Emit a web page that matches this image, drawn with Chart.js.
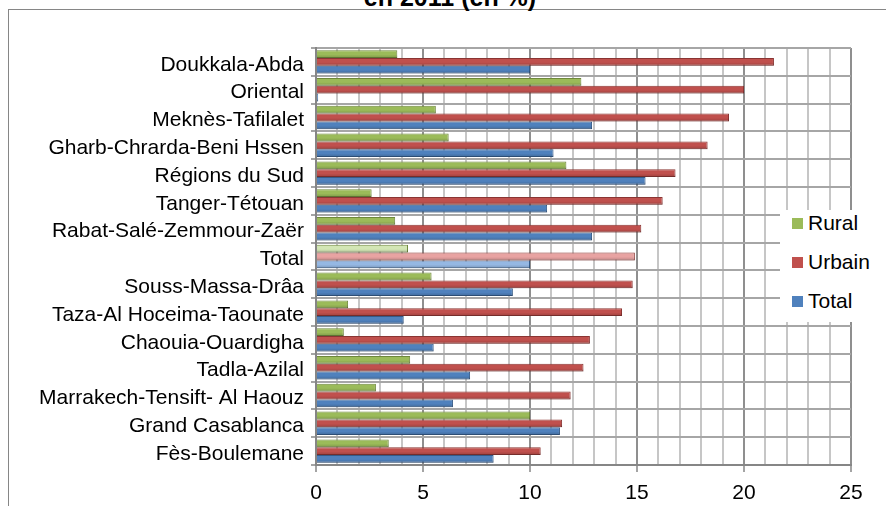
<!DOCTYPE html>
<html>
<head>
<meta charset="utf-8">
<script src="https://cdn.jsdelivr.net/npm/chart.js@4.4.0/dist/chart.umd.min.js"></script>
<style>
  html, body { margin: 0; padding: 0; background: #fff; overflow: hidden; }
  body { width: 886px; height: 506px; position: relative; font-family: 'Liberation Sans', Arial, sans-serif; }
  #frame { position: absolute; left: 8px; top: 9px; width: 1000px; height: 1000px; border: 1.5px solid #868686; }
  #title { position: absolute; left: 0; top: -18px; width: 900px; text-align: center; font-size: 25px; line-height: 30px; font-weight: bold; color: #000; white-space: nowrap; }
  #chart { position: absolute; left: 0; top: 0; }
  #legend { position: absolute; left: 780px; top: 210px; width: 120px; height: 112px; background: #fff; }
  .item { position: absolute; left: 12px; height: 24px; line-height: 24px; font-size: 21px; color: #000; white-space: nowrap; }
  .item span.box { display: inline-block; width: 11px; height: 11px; margin-right: 5px; vertical-align: 1px; }
</style>
</head>
<body>
<div id="frame"></div>
<div id="title">en 2011 (en %)</div>
<canvas id="chart" width="886" height="506"></canvas>
<div id="legend"></div>
<script>
// data (%)
const regions = [
    'Doukkala-Abda', 'Oriental', 'Meknès-Tafilalet', 'Gharb-Chrarda-Beni Hssen',
    'Régions du Sud', 'Tanger-Tétouan', 'Rabat-Salé-Zemmour-Zaër', 'Total',
    'Souss-Massa-Drâa', 'Taza-Al Hoceima-Taounate', 'Chaouia-Ouardigha',
    'Tadla-Azilal', 'Marrakech-Tensift- Al Haouz', 'Grand Casablanca', 'Fès-Boulemane'
];
const rural  = [3.8, 12.4, 5.6, 6.2, 11.7, 2.6, 3.7, 4.3, 5.4, 1.5, 1.3, 4.4, 2.8, 10.0, 3.4];
const urbain = [21.4, 20.0, 19.3, 18.3, 16.8, 16.2, 15.2, 14.9, 14.8, 14.3, 12.8, 12.5, 11.9, 11.5, 10.5];
const total  = [10.0, 0.1, 12.9, 11.1, 15.4, 10.8, 12.9, 10.0, 9.2, 4.1, 5.5, 7.2, 6.4, 11.4, 8.3];
const xTicks = [0, 5, 10, 15, 20, 25];

const FONT = "'Liberation Sans', Arial, sans-serif";

// series colours, the "Total" row is drawn lighter
const series = [
    { label: 'Rural',  data: rural,  color: '#9bbb59', light: '#d3e6b5', border: '#6f883c' },
    { label: 'Urbain', data: urbain, color: '#c0504d', light: '#e8a3a2', border: '#8a3533' },
    { label: 'Total',  data: total,  color: '#4f81bd', light: '#95b8e3', border: '#355b89' }
];
const highlightIndex = regions.indexOf('Total');

// darker lower half on each bar, a bit like the rounded 3D bars
const shadePlugin = {
    id: 'shade',
    afterDatasetsDraw(chart) {
        const ctx = chart.ctx;
        chart.data.datasets.forEach((ds, i) => {
            chart.getDatasetMeta(i).data.forEach(bar => {
                const h = bar.height;
                const top = bar.y - h / 2;
                const g = ctx.createLinearGradient(0, top, 0, top + h);
                g.addColorStop(0, 'rgba(0,0,0,0)');
                g.addColorStop(0.55, 'rgba(0,0,0,0)');
                g.addColorStop(1, 'rgba(0,0,0,0.18)');
                ctx.save();
                ctx.fillStyle = g;
                ctx.fillRect(bar.base, top, bar.x - bar.base, h);
                ctx.restore();
            });
        });
    }
};

const chart = new Chart(document.getElementById('chart'), {
    type: 'bar',
    data: {
        labels: regions,
        datasets: series.map(s => ({
            label: s.label,
            data: s.data,
            backgroundColor: c => c.dataIndex === highlightIndex ? s.light : s.color,
            borderColor: s.border,
            borderWidth: 1,
            barPercentage: 1,
            categoryPercentage: 0.84
        }))
    },
    options: {
        indexAxis: 'y',
        responsive: false,
        animation: false,
        devicePixelRatio: 1,
        layout: { padding: { left: 0, right: 35, top: 48, bottom: 0 } },
        plugins: {
            legend: { display: false },
            tooltip: { enabled: false },
            title: { display: false }
        },
        scales: {
            x: {
                min: 0,
                max: 25,
                afterFit: scale => { scale.height = 41; },
                ticks: {
                    stepSize: 1,
                    autoSkip: false,
                    maxRotation: 0,
                    color: '#000',
                    padding: 9,
                    font: { family: FONT, size: 21 },
                    callback: v => xTicks.includes(v) ? v : ''
                },
                grid: {
                    color: c => c.tick && c.tick.value % 5 === 0 ? '#8f8f8f' : '#c6c6c6',
                    lineWidth: 2,
                    tickLength: 7,
                    tickColor: c => c.tick && c.tick.value % 5 === 0 ? '#868686' : 'rgba(0,0,0,0)',
                    tickWidth: 1.5
                },
                border: { color: '#868686', width: 2 }
            },
            y: {
                afterFit: scale => { scale.width = 316; },
                ticks: {
                    color: '#000',
                    padding: 7,
                    labelOffset: 3,
                    autoSkip: false,
                    font: { family: FONT, size: 21 }
                },
                grid: {
                    offset: true,
                    color: '#a6a6a6',
                    lineWidth: 2,
                    tickLength: 5,
                    tickColor: '#868686',
                    tickWidth: 1.5
                },
                border: { color: '#868686', width: 2 }
            }
        }
    },
    plugins: [shadePlugin]
});

// legend, built from the datasets
const legend = document.getElementById('legend');
series.forEach((s, i) => {
    const row = document.createElement('div');
    row.className = 'item';
    row.style.top = (i * 39) + 1 + 'px';
    row.innerHTML = `<span class="box" style="background:${s.color}"></span>${s.label}`;
    legend.appendChild(row);
});
</script>
</body>
</html>
